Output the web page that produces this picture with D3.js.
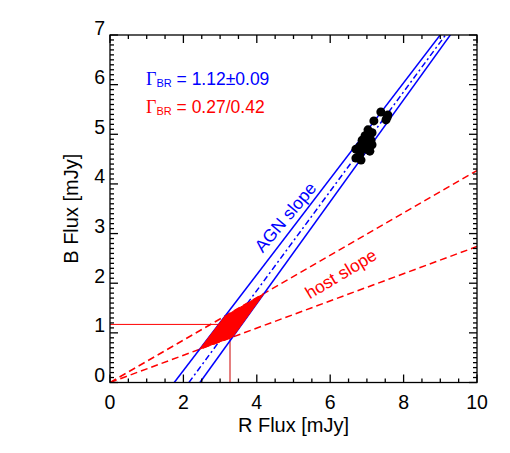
<!DOCTYPE html>
<html><head><meta charset="utf-8">
<script src="https://cdn.jsdelivr.net/npm/d3@7"></script>
<style>body{margin:0;background:#fff}svg{display:block}text{font-family:"Liberation Sans",Arial,Helvetica,sans-serif}</style>
</head><body><svg id="c" width="510" height="453"></svg>
<script>
// data
const xTicks = [0, 2, 4, 6, 8, 10];
const yTicks = [0, 1, 2, 3, 4, 5, 6, 7];
const pointR = [7.38,7.57,7.52,7.19,7.03,7.14,6.95,7.11,6.87,6.81,6.98,6.70,6.81,6.70,6.84,7.08,6.98,7.03,6.89,7.14,7.05,6.78,7.55];
const pointB = [5.45,5.39,5.29,5.27,5.09,5.03,4.97,4.88,4.88,4.76,4.70,4.70,4.60,4.52,4.48,4.66,4.82,4.90,4.82,4.79,4.99,4.69,5.34];
// AGN lines: B = slope*(R - r0)
const agnNames = ["lower", "best", "upper"];
const agnR0 = [1.75, 2.15, 2.45];
const agnSlope = [0.966, 1.001, 1.026];
// host lines through origin: B = slope*R
const hostSlope = [0.427, 0.274];
const hostR = 3.27, hostB = 1.17;
const labelAGN = "\u0393", subBR = "BR";
const textAGN = " = 1.12\u00b10.09", textHost = " = 0.27/0.42";

const svg = d3.select("#c");
const L = 110, R = 477, T = 35, B = 382.5;
const x = d3.scaleLinear().domain([0, 10]).range([L, R]);
const y = d3.scaleLinear().domain([0, 7]).range([B, T]);

svg.append("clipPath").attr("id", "clip").append("rect")
  .attr("x", L).attr("y", T).attr("width", R - L).attr("height", B - T);
const g = svg.append("g").attr("clip-path", "url(#clip)");

// red host estimate lines
g.append("line").attr("x1", x(0)).attr("x2", x(hostR)).attr("y1", y(hostB)).attr("y2", y(hostB))
  .attr("stroke", "#ff0000").attr("stroke-width", 1);
g.append("line").attr("x1", x(hostR)).attr("x2", x(hostR)).attr("y1", y(0)).attr("y2", y(hostB))
  .attr("stroke", "#cc0000").attr("stroke-width", 1);

// host dashed lines
hostSlope.forEach(s => {
  g.append("line").attr("x1", x(0)).attr("y1", y(0)).attr("x2", x(10)).attr("y2", y(10 * s))
    .attr("stroke", "#ff0000").attr("stroke-width", 1.5).attr("stroke-dasharray", "7,4");
});

// AGN lines
agnR0.forEach((r0, i) => {
  const m = agnSlope[i];
  const ln = g.append("line").attr("x1", x(r0)).attr("y1", y(0))
    .attr("x2", x(r0 + 8 / m)).attr("y2", y(8))
    .attr("stroke", "#0000ff").attr("stroke-width", 1.5);
  if (agnNames[i] === "best") ln.attr("stroke-dasharray", "6,3,2,3");
});

// polygon: intersection of AGN band (lower/upper) with host band
function interAgnHost(m, r0, s) { const r = m * r0 / (m - s); return [r, s * r]; }
const poly = [
  interAgnHost(agnSlope[0], agnR0[0], hostSlope[1]),
  interAgnHost(agnSlope[2], agnR0[2], hostSlope[1]),
  interAgnHost(agnSlope[2], agnR0[2], hostSlope[0]),
  interAgnHost(agnSlope[0], agnR0[0], hostSlope[0])
];
g.append("path").attr("d", d3.line().x(d => x(d[0])).y(d => y(d[1]))(poly) + "Z")
  .attr("fill", "#ff0000").attr("stroke", "#ff0000").attr("stroke-width", 1);

// points
g.selectAll("circle.p").data(pointR).enter().append("circle")
  .attr("cx", d => x(d)).attr("cy", (d, i) => y(pointB[i])).attr("r", 4.5).attr("fill", "#000");

// axes frame & ticks
const ax = svg.append("g").attr("stroke", "#000").attr("stroke-width", 1.3);
ax.append("rect").attr("x", L).attr("y", T).attr("width", R - L).attr("height", B - T).attr("fill", "none");
const xMinor = d3.range(0, 10.001, 0.5);
xMinor.forEach(v => {
  const major = Math.abs(v / 2 - Math.round(v / 2)) < 1e-6;
  const len = major ? 8 : 4;
  ax.append("line").attr("x1", x(v)).attr("x2", x(v)).attr("y1", B).attr("y2", B - len);
  ax.append("line").attr("x1", x(v)).attr("x2", x(v)).attr("y1", T).attr("y2", T + len);
});
const yMinor = d3.range(0, 7.001, 0.1);
yMinor.forEach(v => {
  const major = Math.abs(v - Math.round(v)) < 1e-6;
  const len = major ? 8 : 4;
  ax.append("line").attr("x1", L).attr("x2", L + len).attr("y1", y(v)).attr("y2", y(v));
  ax.append("line").attr("x1", R).attr("x2", R - len).attr("y1", y(v)).attr("y2", y(v));
});

// tick labels
svg.selectAll("text.xt").data(xTicks).enter().append("text")
  .attr("x", d => x(d)).attr("y", 409).attr("text-anchor", "middle")
  .attr("font-size", 19.5).text(d => d);
svg.selectAll("text.yt").data(yTicks).enter().append("text")
  .attr("x", 105).attr("y", d => y(d) - 0.5).attr("text-anchor", "end")
  .attr("font-size", 19.5).text(d => d);

// axis titles
svg.append("text").attr("x", (L + R) / 2).attr("y", 432).attr("text-anchor", "middle")
  .attr("font-size", 20).text("R Flux [mJy]");
svg.append("text").attr("transform", `translate(78,${(T + B) / 2}) rotate(-90)`)
  .attr("text-anchor", "middle").attr("font-size", 20).text("B Flux [mJy]");

// legend texts
function gammaText(yy, color, rest) {
  const t = svg.append("text").attr("x", 146).attr("y", yy).attr("fill", color).attr("font-size", 17.5);
  t.append("tspan").attr("font-family", "'Liberation Serif', serif").attr("font-size", 18).text(labelAGN);
  t.append("tspan").attr("font-size", 11).attr("dy", 2).text(subBR);
  t.append("tspan").attr("dy", -2).text(rest);
}
gammaText(85, "#0000ff", textAGN);
gammaText(113, "#ff0000", textHost);

// line labels
svg.append("text").attr("transform", "translate(290,221) rotate(-50)")
  .attr("text-anchor", "middle").attr("fill", "#0000ff").attr("font-size", 17.5).text("AGN slope");
svg.append("text").attr("transform", "translate(344,279) rotate(-31)")
  .attr("text-anchor", "middle").attr("fill", "#ff0000").attr("font-size", 17.5).text("host slope");
</script></body></html>
